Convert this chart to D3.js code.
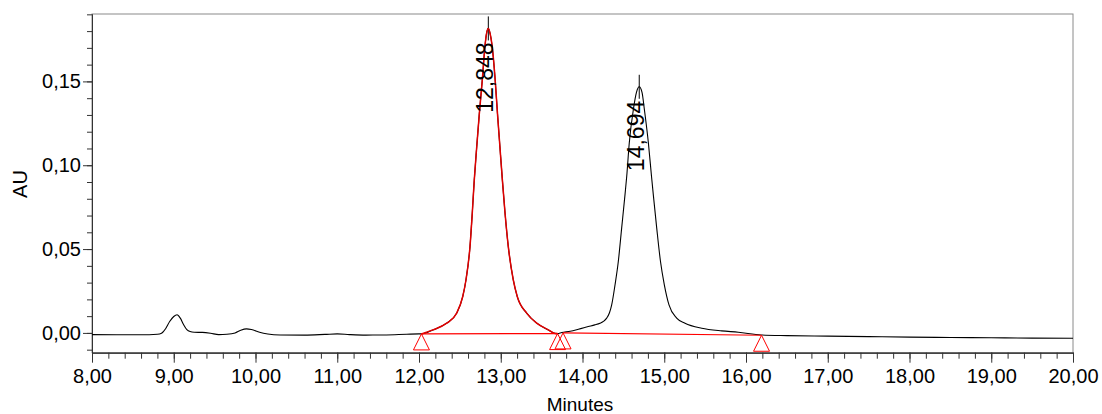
<!DOCTYPE html>
<html>
<head>
<meta charset="utf-8">
<script src="https://cdn.jsdelivr.net/npm/d3@7/dist/d3.min.js"></script>
<style>
  html, body { margin: 0; padding: 0; background: #fff; }
  svg { display: block; }
  text { font-family: "Liberation Sans", Arial, sans-serif; fill: #000; }
</style>
</head>
<body>
<svg id="chart" width="1102" height="414"></svg>
<script>
// ---- Data ----
const times = [
  8.00, 8.30, 8.60, 8.80, 8.85, 8.90, 8.95, 9.00, 9.04, 9.08, 9.12, 9.16, 9.20, 9.25, 9.35,
  9.45, 9.55, 9.65, 9.75, 9.82, 9.89, 9.95, 10.05, 10.15, 10.30, 10.60, 10.85, 11.00, 11.15,
  11.35, 11.60, 11.85, 12.00, 12.03, 12.17, 12.339, 12.461, 12.535, 12.575, 12.624, 12.652,
  12.676, 12.706, 12.738, 12.774, 12.807, 12.826, 12.848, 12.870, 12.895, 12.932, 12.960,
  12.990, 13.020, 13.052, 13.092, 13.153, 13.202, 13.317, 13.440, 13.582, 13.663, 13.695,
  13.746, 13.85, 13.95, 14.071, 14.15, 14.214, 14.26, 14.296, 14.33, 14.357, 14.398, 14.438,
  14.479, 14.520, 14.541, 14.572, 14.622, 14.660, 14.694, 14.728, 14.757, 14.806, 14.844,
  14.866, 14.908, 14.954, 15.001, 15.058, 15.152, 15.254, 15.458, 15.703, 15.906, 16.19,
  16.50, 17.00, 17.50, 18.00, 18.50, 19.00, 19.50, 20.00
];
const signal = [
  -0.0010, -0.0011, -0.0011, -0.0008, -0.0002, 0.0025, 0.0068, 0.0098, 0.0108, 0.0088, 0.0050,
  0.0020, 0.0008, 0.0004, 0.0003, -0.0002, -0.0010, -0.0008, 0.0000, 0.0016, 0.0024, 0.0020,
  0.0004, -0.0006, -0.0012, -0.0013, -0.0009, -0.0006, -0.0010, -0.0013, -0.0012, -0.0008,
  -0.0006, -0.0006, 0.0018, 0.0058, 0.0118, 0.0217, 0.0317, 0.0516, 0.0717, 0.0911, 0.1109,
  0.1308, 0.1507, 0.1710, 0.1785, 0.1816, 0.1785, 0.1710, 0.1507, 0.1308, 0.1109, 0.0911,
  0.0717, 0.0516, 0.0317, 0.0217, 0.0118, 0.0058, 0.0018, -0.0003, -0.0004, 0.0002, 0.0010,
  0.0022, 0.0038, 0.0048, 0.0058, 0.0070, 0.0088, 0.0120, 0.0167, 0.0287, 0.0426, 0.0625,
  0.0825, 0.0934, 0.1133, 0.1332, 0.1435, 0.1468, 0.1435, 0.1332, 0.1133, 0.0934, 0.0825,
  0.0625, 0.0426, 0.0287, 0.0167, 0.0088, 0.0058, 0.0028, 0.0012, 0.0004, -0.0012, -0.0016,
  -0.0019, -0.0022, -0.0025, -0.0027, -0.0029, -0.0031, -0.0032
];

// integrated (red) peak window
const redPeakStart = 12.03;
const redPeakEnd = 13.695;

// peak apex labels
const peakTimes = [12.848, 14.694];
const peakApex = [0.1816, 0.1468];
const peakLabels = ["12,848", "14,694"];

// integration baselines
const baseStartT = [12.03, 13.762];
const baseStartV = [-0.0006, 0.0000];
const baseEndT = [13.695, 16.19];
const baseEndV = [-0.0004, -0.0014];

// start/end event markers (triangles)
const markerTimes = [12.03, 13.695, 13.762, 16.19];
const markerValues = [-0.0006, -0.0004, 0.0000, -0.0014];

// axes
const xTicks = [8, 9, 10, 11, 12, 13, 14, 15, 16, 17, 18, 19, 20];
const yTicks = [0.00, 0.05, 0.10, 0.15];
const xDomain = [8, 20];
const yDomain = [-0.0118, 0.1902];
const xTitle = "Minutes";
const yTitle = "AU";

// ---- Drawing ----
(function draw() {
const svg = d3.select("#chart");
const pL = 92, pR = 1073, pT = 14, pB = 352.7;

const x = d3.scaleLinear().domain(xDomain).range([pL, pR]);
const y = d3.scaleLinear().domain(yDomain).range([pB, pT]);

const loc = d3.formatLocale({decimal: ",", thousands: ".", grouping: [3], currency: ["", ""]});
const fmt = loc.format(".2f");

// frame
svg.append("rect")
  .attr("x", pL).attr("y", pT)
  .attr("width", pR - pL).attr("height", pB - pT)
  .attr("fill", "none").attr("stroke", "#8a8a8a").attr("stroke-width", 1);

const axisColor = "#333";
const fontFam = "Liberation Sans, Arial, sans-serif";

// y minor ticks
const yMinor = d3.range(-0.01, 0.1905, 0.01);
svg.append("g").attr("transform", `translate(${pL},0)`)
  .call(d3.axisLeft(y).tickValues(yMinor).tickSize(5).tickSizeOuter(0).tickFormat(""))
  .call(g => g.selectAll("line,path").attr("stroke", axisColor));
// y major ticks
svg.append("g").attr("transform", `translate(${pL},0)`)
  .call(d3.axisLeft(y).tickValues(yTicks).tickSize(9).tickSizeOuter(0).tickPadding(2).tickFormat(fmt))
  .call(g => g.selectAll("line,path").attr("stroke", axisColor))
  .call(g => g.selectAll("text").attr("font-size", 20).attr("font-family", fontFam).attr("fill", "#000"));

// x minor ticks
const xMinor = d3.range(8, 20.001, 0.2);
svg.append("g").attr("transform", `translate(0,${pB})`)
  .call(d3.axisBottom(x).tickValues(xMinor).tickSize(6).tickSizeOuter(0).tickFormat(""))
  .call(g => g.selectAll("line,path").attr("stroke", axisColor));
svg.append("g").attr("transform", `translate(0,${pB})`)
  .call(d3.axisBottom(x).tickValues(xTicks).tickSize(10).tickSizeOuter(0).tickPadding(6).tickFormat(fmt))
  .call(g => g.selectAll("line,path").attr("stroke", axisColor))
  .call(g => g.selectAll("text").attr("font-size", 20).attr("font-family", fontFam).attr("fill", "#000"));

// titles
svg.append("text")
  .attr("transform", `translate(20,184) rotate(-90)`)
  .attr("text-anchor", "middle").attr("dy", "0.35em")
  .attr("font-size", 20).text(yTitle);
svg.append("text")
  .attr("x", 580).attr("y", 411)
  .attr("text-anchor", "middle")
  .attr("font-size", 19).text(xTitle);

// clip
svg.append("clipPath").attr("id", "clip")
  .append("rect").attr("x", pL).attr("y", pT).attr("width", pR - pL).attr("height", pB - pT);

const pts = times.map((t, i) => [t, signal[i]]);
const line = d3.line().x(d => x(d[0])).y(d => y(d[1])).curve(d3.curveMonotoneX);

const plot = svg.append("g").attr("clip-path", "url(#clip)");

// black signal
plot.append("path").datum(pts)
  .attr("d", line).attr("fill", "none").attr("stroke", "#000").attr("stroke-width", 1.1);

// apex markers
plot.selectAll(".apex").data(peakTimes).enter().append("line")
  .attr("x1", d => x(d)).attr("x2", d => x(d))
  .attr("y1", (d, i) => y(peakApex[i]) - 12)
  .attr("y2", (d, i) => y(peakApex[i]) + 12)
  .attr("stroke", "#000").attr("stroke-width", 1);

// red peak overlay
const redPts = pts.filter(p => p[0] >= redPeakStart - 1e-9 && p[0] <= redPeakEnd + 1e-9);
plot.append("path").datum(redPts)
  .attr("d", line).attr("fill", "none").attr("stroke", "#e00000").attr("stroke-width", 1.5);

// baselines
plot.selectAll(".base").data(baseStartT).enter().append("line")
  .attr("x1", d => x(d)).attr("y1", (d, i) => y(baseStartV[i]))
  .attr("x2", (d, i) => x(baseEndT[i])).attr("y2", (d, i) => y(baseEndV[i]))
  .attr("stroke", "#ff0000").attr("stroke-width", 1.2);

// triangles
plot.selectAll(".tri").data(markerTimes).enter().append("path")
  .attr("d", (d, i) => {
    const cx = x(d), cy = y(markerValues[i]);
    return `M${cx},${cy}L${cx + 8},${cy + 16}L${cx - 8},${cy + 16}Z`;
  })
  .attr("fill", "none").attr("stroke", "#ff0000").attr("stroke-width", 1);

// peak labels
svg.selectAll(".plabel").data(peakTimes).enter().append("text")
  .attr("transform", (d, i) => `translate(${x(d) + 5},${y(peakApex[i]) + 14}) rotate(-90)`)
  .attr("text-anchor", "end")
  .attr("font-size", 23)
  .text((d, i) => peakLabels[i]);
})();
</script>
</body>
</html>
